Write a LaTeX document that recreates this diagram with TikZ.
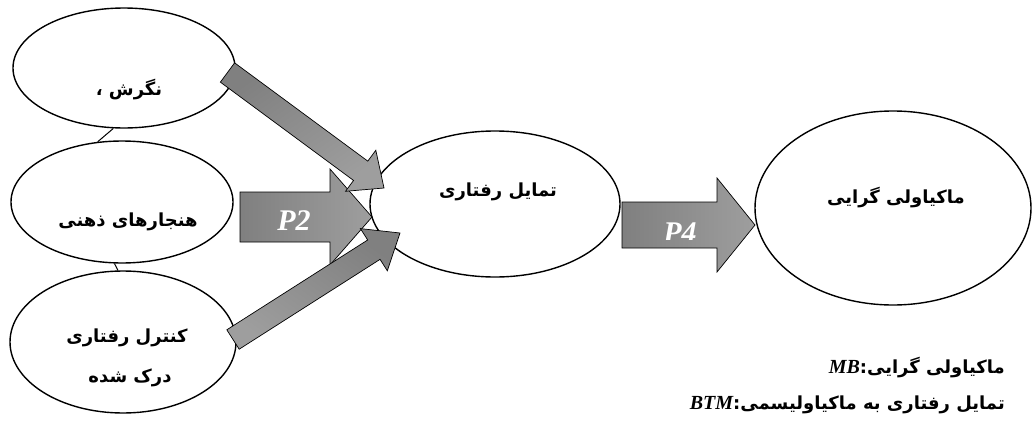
\documentclass[tikz,border=0pt]{standalone}
\usepackage{fontspec}
\usetikzlibrary{shapes.geometric,calc}
\TeXXeTstate=1
\newfontfamily\fa[Script=Arabic]{DejaVu Sans}
\newfontfamily\tnr{Liberation Serif}
\newcommand\blockarr[6][]{%
  \coordinate (ba-h) at ($(#3)!#6!(#2)$);
  \path[barrow,#1] ($(#2)!#4!90:(#3)$) -- ($(ba-h)!#4!-90:(#2)$) -- ($(ba-h)!#5!-90:(#2)$)
    -- (#3) -- ($(ba-h)!#5!90:(#2)$) -- ($(ba-h)!#4!90:(#2)$) -- ($(#2)!#4!-90:(#3)$) -- cycle;
}
\begin{document}
\begin{tikzpicture}[x=1pt,y=-1pt,
  ell/.style={ellipse,draw=black,line width=1.4pt,fill=white,inner sep=0pt},
  barrow/.style={draw=black,line width=0.7pt,left color=black!50,right color=black!38},
  fatxt/.style={font=\fa\bfseries\fontsize{18}{20}\selectfont,inner sep=0pt},
  plab/.style={font=\tnr\bfseries\itshape\fontsize{30}{32}\selectfont,text=white,inner sep=0pt},
  link/.style={line width=1pt}]
\useasboundingbox (0,0) rectangle (1033,423);
% ellipses
\node[ell,minimum width=222pt,minimum height=120pt] (e1) at (124,68) {};
\node[ell,minimum width=222pt,minimum height=122pt] (e2) at (122,202) {};
\node[ell,minimum width=226pt,minimum height=142pt] (e3) at (123,342) {};
\node[ell,minimum width=250pt,minimum height=146pt] (e4) at (495,204) {};
\node[ell,minimum width=276pt,minimum height=194pt] (e5) at (893,208) {};
% small links
\draw[link] (e1.260) -- (e2.112);
\draw[link] (e2.263) -- (e3.94);
% texts
\node[fatxt] (t1) at (129,90) {\beginR نگرش ،\endR};
\node[fatxt] (t2) at (128,222) {\beginR هنجارهای ذهنی\endR};
\node[fatxt] (t3a) at (127,338) {\beginR کنترل رفتاری\endR};
\node[fatxt] (t3b) at (130,378) {\beginR درک شده\endR};
\node[fatxt] (t4) at (498,192) {\beginR تمایل رفتاری\endR};
\node[fatxt] (t5) at (896,198) {\beginR ماکیاولی گرایی\endR};
% block arrows
\coordinate (p2a) at (240,217); \coordinate (p2b) at (372,217);
\coordinate (p4a) at (622,225); \coordinate (p4b) at (755,225);
\coordinate (ua) at (227.5,72.5); \coordinate (ub) at (384,188);
\coordinate (la) at (233,339.5); \coordinate (lb) at (400,233);
\blockarr{p2a}{p2b}{25pt}{48pt}{42pt}
\blockarr{p4a}{p4b}{23pt}{47pt}{38pt}
\blockarr[shading angle=35]{ua}{ub}{12pt}{25.5pt}{29pt}
\blockarr[shading angle=-35]{la}{lb}{11.5pt}{25pt}{31pt}
\node[plab] (lp2) at (294,221) {P2};
\begin{scope}
\clip (640,200) rectangle (720,239);
\node[plab] (lp4) at (680,233) {P4};
\end{scope}
% legend
\node[fatxt,anchor=east] (l1) at (1005,368) {\beginR ماکیاولی گرایی:\beginL{\tnr\bfseries\itshape\fontsize{20}{22}\selectfont MB}\endL\endR};
\node[fatxt,anchor=east] (l2) at (1005,405) {\beginR تمایل رفتاری به ماکیاولیسمی:\beginL{\tnr\bfseries\itshape\fontsize{20}{22}\selectfont BTM}\endL\endR};
\end{tikzpicture}
\end{document}
